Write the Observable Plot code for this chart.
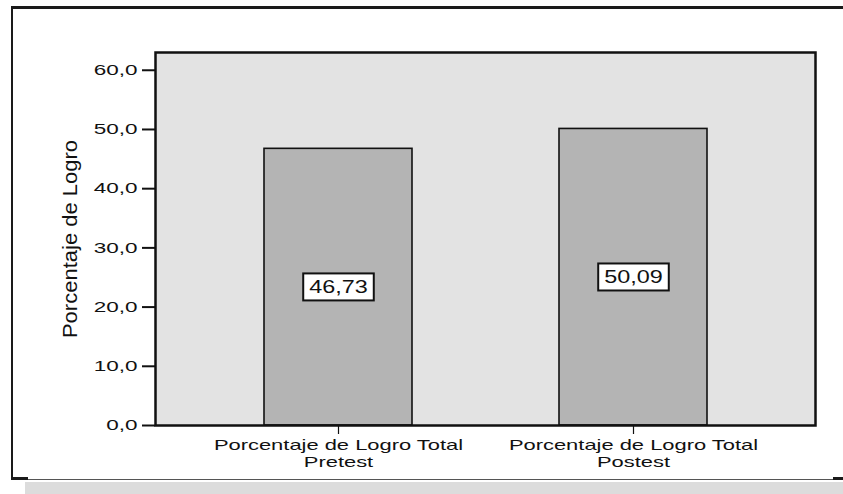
<!DOCTYPE html>
<html>
<head>
<meta charset="utf-8">
<script src="https://cdn.jsdelivr.net/npm/d3@7"></script>
<script src="https://cdn.jsdelivr.net/npm/@observablehq/plot@0.6"></script>
<style>
  html, body { margin: 0; padding: 0; background: #fff; }
  body { width: 843px; height: 494px; overflow: hidden; position: relative; font-family: Arial, "Liberation Sans", sans-serif; }
  #frame { position: absolute; left: 11px; top: 6px; width: 832px; height: 474px; box-sizing: border-box;
           border-left: 2px solid #1a1a1a; border-top: 3px solid #1a1a1a; border-bottom: 1px solid #555; }
  #cornerL { position: absolute; left: 11px; top: 477px; width: 17px; height: 3px; background: #1a1a1a; }
  #cornerR { position: absolute; left: 833px; top: 477px; width: 10px; height: 3px; background: #1a1a1a; }
  #shadow { position: absolute; left: 25px; top: 482px; width: 818px; height: 12px; background: #dcdcdc; }
  #chart { position: absolute; left: 0; top: 0; }
  #chart svg { display: block; }
</style>
</head>
<body>
<div id="frame"></div>
<div id="cornerL"></div>
<div id="cornerR"></div>
<div id="shadow"></div>
<div id="chart"></div>
<script>
// ---- data ----
const categories = ["Porcentaje de Logro Total\nPretest", "Porcentaje de Logro Total\nPostest"];
const values = [46.73, 50.09];
const yTicks = [0, 10, 20, 30, 40, 50, 60];
const yTitle = "Porcentaje de Logro";

const data = categories.map((c, i) => ({cat: c, value: values[i]}));
const fmtVal = v => v.toFixed(2).replace(".", ",");
const fmtTick = v => v.toFixed(1).replace(".", ",");

const chart = Plot.plot({
  width: 843,
  height: 494,
  marginLeft: 155,
  marginRight: 28,
  marginTop: 52,
  marginBottom: 69,
  style: {background: "transparent", fontFamily: "Arial, 'Liberation Sans', sans-serif", color: "#111", overflow: "visible"},
  x: {domain: categories, paddingInner: 0.5, paddingOuter: 0.365, label: null},
  y: {domain: [0, 63], ticks: yTicks, label: yTitle},
  marks: [
    Plot.frame({fill: "#e3e3e3"}),
    Plot.barY(data, {x: "cat", y: "value", fill: "#b4b4b4", stroke: "#111", strokeWidth: 1.6}),
    Plot.text(data, {x: "cat", y: d => d.value / 2, text: d => fmtVal(d.value), fontSize: 18, fill: "#111", className: "vlabel"}),
    Plot.axisY({ticks: yTicks, tickSize: 13, tickPadding: 5, tickFormat: fmtTick, fontSize: 15,
                strokeWidth: 2, label: null, className: "ytick"}),
    Plot.axisY({ticks: [], tickSize: 0, fontSize: 20, label: yTitle, labelAnchor: "center",
                labelOffset: 93, labelArrow: "none", className: "ytitle"}),
    Plot.axisX({tickSize: 9, tickPadding: 3, fontSize: 15, lineHeight: 1.15, strokeWidth: 1.2, label: null}),
    Plot.frame({stroke: "#111", strokeWidth: 2.5})
  ]
});
document.getElementById("chart").appendChild(chart);

// widen glyphs horizontally to mimic the original's extended bitmap font
function stretch(nodes, factor) {
  nodes.forEach(el => {
    const L = el.getComputedTextLength();
    if (L > 0) {
      el.setAttribute("textLength", (L * factor).toFixed(2));
      el.setAttribute("lengthAdjust", "spacingAndGlyphs");
    }
  });
}
const svg = chart.tagName.toLowerCase() === "svg" ? chart : chart.querySelector("svg");

// y-axis title
svg.querySelectorAll("text").forEach(t => {
  if (t.textContent === yTitle) { t.setAttribute("font-size", "20"); stretch([t], 1.1); }
});

const yTickLab = svg.querySelector('g[aria-label="y-axis tick label"]');
if (yTickLab) stretch(yTickLab.querySelectorAll("text"), 1.5);

const xTickLab = svg.querySelector('g[aria-label="x-axis tick label"]');
if (xTickLab) {
  xTickLab.querySelectorAll("text").forEach(t => {
    const spans = t.querySelectorAll("tspan");
    if (spans.length) stretch(spans, 1.46); else stretch([t], 1.46);
  });
}

// value labels: stretched, with white boxed background
svg.querySelectorAll("g.vlabel text").forEach(t => {
  stretch([t], 1.3);
  const b = t.getBBox();
  const r = document.createElementNS("http://www.w3.org/2000/svg", "rect");
  const px = 6, py = 3.5;
  r.setAttribute("x", b.x - px);
  r.setAttribute("y", b.y - py);
  r.setAttribute("width", b.width + 2 * px);
  r.setAttribute("height", b.height + 2 * py);
  r.setAttribute("fill", "#fff");
  r.setAttribute("stroke", "#111");
  r.setAttribute("stroke-width", "2");
  if (t.getAttribute("transform")) r.setAttribute("transform", t.getAttribute("transform"));
  t.parentNode.insertBefore(r, t);
});
</script>
</body>
</html>
